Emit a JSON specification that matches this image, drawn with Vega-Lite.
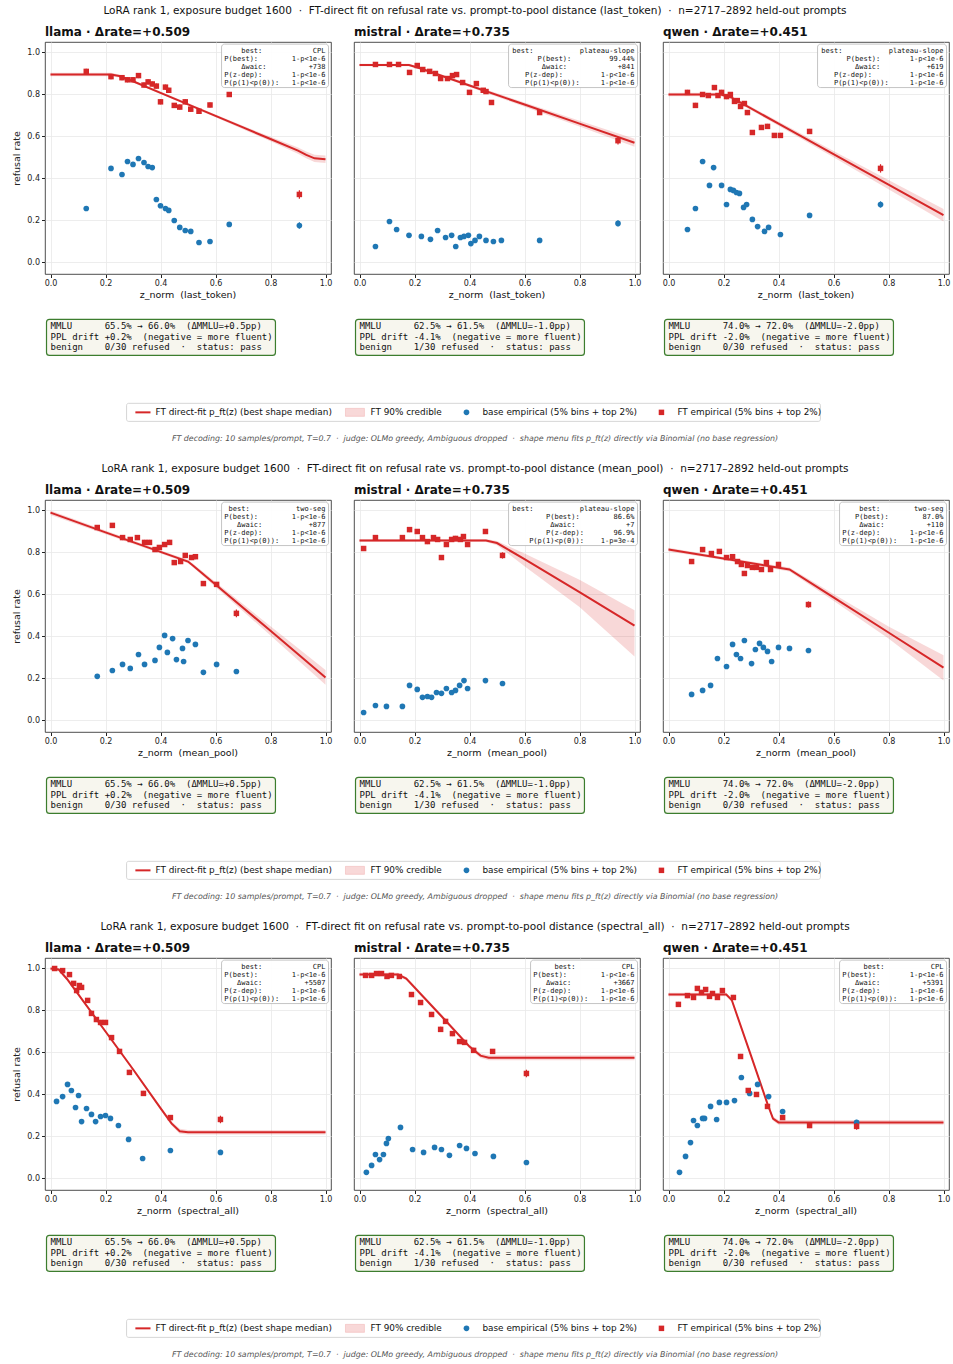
{
"$schema": "https://vega.github.io/schema/vega-lite/v6.json",
"padding": {"left": 11, "top": 5, "right": 2, "bottom": 2},
"background": "white",
"data": {"values": [
{"t":"info","dist":"last_token","model":"llama","title":"llama · Δrate=+0.509","best":"CPL","stats":"\u00a0\u00a0\u00a0\u00a0best:\u00a0\u00a0\u00a0\u00a0\u00a0\u00a0\u00a0\u00a0\u00a0\u00a0\u00a0\u00a0CPL\nP(best):\u00a0\u00a0\u00a0\u00a0\u00a0\u00a0\u00a0\u00a01-p<1e-6\n\u00a0\u00a0\u00a0\u00a0Δwaic:\u00a0\u00a0\u00a0\u00a0\u00a0\u00a0\u00a0\u00a0\u00a0\u00a0+738\nP(z-dep):\u00a0\u00a0\u00a0\u00a0\u00a0\u00a0\u00a01-p<1e-6\nP(p(1)<p(0)):\u00a0\u00a0\u00a01-p<1e-6","mmlu":"MMLU\u00a0\u00a0\u00a0\u00a0\u00a0\u00a065.5% → 66.0%\u00a0\u00a0(ΔMMLU=+0.5pp)\nPPL drift +0.2%\u00a0\u00a0(negative = more fluent)\nbenign\u00a0\u00a0\u00a0\u00a00/30 refused\u00a0\u00a0·\u00a0\u00a0status: pass","xt":"z_norm\u00a0\u00a0(last_token)"},
{"t":"info","dist":"last_token","model":"mistral","title":"mistral · Δrate=+0.735","best":"plateau-slope","stats":"best:\u00a0\u00a0\u00a0\u00a0\u00a0\u00a0\u00a0\u00a0\u00a0\u00a0\u00a0plateau-slope\n\u00a0\u00a0\u00a0\u00a0\u00a0\u00a0P(best):\u00a0\u00a0\u00a0\u00a0\u00a0\u00a0\u00a0\u00a0\u00a099.44%\n\u00a0\u00a0\u00a0\u00a0\u00a0\u00a0\u00a0Δwaic:\u00a0\u00a0\u00a0\u00a0\u00a0\u00a0\u00a0\u00a0\u00a0\u00a0\u00a0\u00a0+841\n\u00a0\u00a0\u00a0P(z-dep):\u00a0\u00a0\u00a0\u00a0\u00a0\u00a0\u00a0\u00a0\u00a01-p<1e-6\n\u00a0\u00a0\u00a0P(p(1)<p(0)):\u00a0\u00a0\u00a0\u00a0\u00a01-p<1e-6","mmlu":"MMLU\u00a0\u00a0\u00a0\u00a0\u00a0\u00a062.5% → 61.5%\u00a0\u00a0(ΔMMLU=-1.0pp)\nPPL drift -4.1%\u00a0\u00a0(negative = more fluent)\nbenign\u00a0\u00a0\u00a0\u00a01/30 refused\u00a0\u00a0·\u00a0\u00a0status: pass","xt":"z_norm\u00a0\u00a0(last_token)","sup":"LoRA rank 1, exposure budget 1600\u00a0\u00a0·\u00a0\u00a0FT-direct fit on refusal rate vs. prompt-to-pool distance (last_token)\u00a0\u00a0·\u00a0\u00a0n=2717–2892 held-out prompts","foot":"FT decoding: 10 samples/prompt, T=0.7\u00a0\u00a0·\u00a0\u00a0judge: OLMo greedy, Ambiguous dropped\u00a0\u00a0·\u00a0\u00a0shape menu fits p_ft(z) directly via Binomial (no base regression)"},
{"t":"info","dist":"last_token","model":"qwen","title":"qwen · Δrate=+0.451","best":"plateau-slope","stats":"best:\u00a0\u00a0\u00a0\u00a0\u00a0\u00a0\u00a0\u00a0\u00a0\u00a0\u00a0plateau-slope\n\u00a0\u00a0\u00a0\u00a0\u00a0\u00a0P(best):\u00a0\u00a0\u00a0\u00a0\u00a0\u00a0\u00a01-p<1e-6\n\u00a0\u00a0\u00a0\u00a0\u00a0\u00a0\u00a0\u00a0Δwaic:\u00a0\u00a0\u00a0\u00a0\u00a0\u00a0\u00a0\u00a0\u00a0\u00a0\u00a0+619\n\u00a0\u00a0\u00a0P(z-dep):\u00a0\u00a0\u00a0\u00a0\u00a0\u00a0\u00a0\u00a0\u00a01-p<1e-6\n\u00a0\u00a0\u00a0P(p(1)<p(0)):\u00a0\u00a0\u00a0\u00a0\u00a01-p<1e-6","mmlu":"MMLU\u00a0\u00a0\u00a0\u00a0\u00a0\u00a074.0% → 72.0%\u00a0\u00a0(ΔMMLU=-2.0pp)\nPPL drift -2.0%\u00a0\u00a0(negative = more fluent)\nbenign\u00a0\u00a0\u00a0\u00a00/30 refused\u00a0\u00a0·\u00a0\u00a0status: pass","xt":"z_norm\u00a0\u00a0(last_token)"},
{"t":"info","dist":"mean_pool","model":"llama","title":"llama · Δrate=+0.509","best":"two-seg","stats":"\u00a0best:\u00a0\u00a0\u00a0\u00a0\u00a0\u00a0\u00a0\u00a0\u00a0\u00a0\u00a0two-seg\nP(best):\u00a0\u00a0\u00a0\u00a0\u00a0\u00a0\u00a0\u00a01-p<1e-6\n\u00a0\u00a0\u00a0Δwaic:\u00a0\u00a0\u00a0\u00a0\u00a0\u00a0\u00a0\u00a0\u00a0\u00a0\u00a0+877\nP(z-dep):\u00a0\u00a0\u00a0\u00a0\u00a0\u00a0\u00a01-p<1e-6\nP(p(1)<p(0)):\u00a0\u00a0\u00a01-p<1e-6","mmlu":"MMLU\u00a0\u00a0\u00a0\u00a0\u00a0\u00a065.5% → 66.0%\u00a0\u00a0(ΔMMLU=+0.5pp)\nPPL drift +0.2%\u00a0\u00a0(negative = more fluent)\nbenign\u00a0\u00a0\u00a0\u00a00/30 refused\u00a0\u00a0·\u00a0\u00a0status: pass","xt":"z_norm\u00a0\u00a0(mean_pool)"},
{"t":"info","dist":"mean_pool","model":"mistral","title":"mistral · Δrate=+0.735","best":"plateau-slope","stats":"best:\u00a0\u00a0\u00a0\u00a0\u00a0\u00a0\u00a0\u00a0\u00a0\u00a0\u00a0plateau-slope\n\u00a0\u00a0\u00a0\u00a0\u00a0\u00a0\u00a0\u00a0P(best):\u00a0\u00a0\u00a0\u00a0\u00a0\u00a0\u00a0\u00a086.6%\n\u00a0\u00a0\u00a0\u00a0\u00a0\u00a0\u00a0\u00a0\u00a0Δwaic:\u00a0\u00a0\u00a0\u00a0\u00a0\u00a0\u00a0\u00a0\u00a0\u00a0\u00a0\u00a0+7\n\u00a0\u00a0\u00a0\u00a0\u00a0\u00a0\u00a0\u00a0P(z-dep):\u00a0\u00a0\u00a0\u00a0\u00a0\u00a0\u00a096.9%\n\u00a0\u00a0\u00a0\u00a0P(p(1)<p(0)):\u00a0\u00a0\u00a0\u00a01-p=3e-4","mmlu":"MMLU\u00a0\u00a0\u00a0\u00a0\u00a0\u00a062.5% → 61.5%\u00a0\u00a0(ΔMMLU=-1.0pp)\nPPL drift -4.1%\u00a0\u00a0(negative = more fluent)\nbenign\u00a0\u00a0\u00a0\u00a01/30 refused\u00a0\u00a0·\u00a0\u00a0status: pass","xt":"z_norm\u00a0\u00a0(mean_pool)","sup":"LoRA rank 1, exposure budget 1600\u00a0\u00a0·\u00a0\u00a0FT-direct fit on refusal rate vs. prompt-to-pool distance (mean_pool)\u00a0\u00a0·\u00a0\u00a0n=2717–2892 held-out prompts","foot":"FT decoding: 10 samples/prompt, T=0.7\u00a0\u00a0·\u00a0\u00a0judge: OLMo greedy, Ambiguous dropped\u00a0\u00a0·\u00a0\u00a0shape menu fits p_ft(z) directly via Binomial (no base regression)"},
{"t":"info","dist":"mean_pool","model":"qwen","title":"qwen · Δrate=+0.451","best":"two-seg","stats":"\u00a0\u00a0\u00a0\u00a0best:\u00a0\u00a0\u00a0\u00a0\u00a0\u00a0\u00a0\u00a0two-seg\n\u00a0\u00a0\u00a0P(best):\u00a0\u00a0\u00a0\u00a0\u00a0\u00a0\u00a0\u00a087.0%\n\u00a0\u00a0\u00a0\u00a0Δwaic:\u00a0\u00a0\u00a0\u00a0\u00a0\u00a0\u00a0\u00a0\u00a0\u00a0+110\nP(z-dep):\u00a0\u00a0\u00a0\u00a0\u00a0\u00a0\u00a01-p<1e-6\nP(p(1)<p(0)):\u00a0\u00a0\u00a01-p<1e-6","mmlu":"MMLU\u00a0\u00a0\u00a0\u00a0\u00a0\u00a074.0% → 72.0%\u00a0\u00a0(ΔMMLU=-2.0pp)\nPPL drift -2.0%\u00a0\u00a0(negative = more fluent)\nbenign\u00a0\u00a0\u00a0\u00a00/30 refused\u00a0\u00a0·\u00a0\u00a0status: pass","xt":"z_norm\u00a0\u00a0(mean_pool)"},
{"t":"info","dist":"spectral_all","model":"llama","title":"llama · Δrate=+0.509","best":"CPL","stats":"\u00a0\u00a0\u00a0\u00a0best:\u00a0\u00a0\u00a0\u00a0\u00a0\u00a0\u00a0\u00a0\u00a0\u00a0\u00a0\u00a0CPL\nP(best):\u00a0\u00a0\u00a0\u00a0\u00a0\u00a0\u00a0\u00a01-p<1e-6\n\u00a0\u00a0\u00a0Δwaic:\u00a0\u00a0\u00a0\u00a0\u00a0\u00a0\u00a0\u00a0\u00a0\u00a0+5507\nP(z-dep):\u00a0\u00a0\u00a0\u00a0\u00a0\u00a0\u00a01-p<1e-6\nP(p(1)<p(0)):\u00a0\u00a0\u00a01-p<1e-6","mmlu":"MMLU\u00a0\u00a0\u00a0\u00a0\u00a0\u00a065.5% → 66.0%\u00a0\u00a0(ΔMMLU=+0.5pp)\nPPL drift +0.2%\u00a0\u00a0(negative = more fluent)\nbenign\u00a0\u00a0\u00a0\u00a00/30 refused\u00a0\u00a0·\u00a0\u00a0status: pass","xt":"z_norm\u00a0\u00a0(spectral_all)"},
{"t":"info","dist":"spectral_all","model":"mistral","title":"mistral · Δrate=+0.735","best":"CPL","stats":"\u00a0\u00a0\u00a0\u00a0\u00a0best:\u00a0\u00a0\u00a0\u00a0\u00a0\u00a0\u00a0\u00a0\u00a0\u00a0\u00a0CPL\nP(best):\u00a0\u00a0\u00a0\u00a0\u00a0\u00a0\u00a0\u00a01-p<1e-6\n\u00a0\u00a0\u00a0Δwaic:\u00a0\u00a0\u00a0\u00a0\u00a0\u00a0\u00a0\u00a0\u00a0\u00a0+3667\nP(z-dep):\u00a0\u00a0\u00a0\u00a0\u00a0\u00a0\u00a01-p<1e-6\nP(p(1)<p(0)):\u00a0\u00a0\u00a01-p<1e-6","mmlu":"MMLU\u00a0\u00a0\u00a0\u00a0\u00a0\u00a062.5% → 61.5%\u00a0\u00a0(ΔMMLU=-1.0pp)\nPPL drift -4.1%\u00a0\u00a0(negative = more fluent)\nbenign\u00a0\u00a0\u00a0\u00a01/30 refused\u00a0\u00a0·\u00a0\u00a0status: pass","xt":"z_norm\u00a0\u00a0(spectral_all)","sup":"LoRA rank 1, exposure budget 1600\u00a0\u00a0·\u00a0\u00a0FT-direct fit on refusal rate vs. prompt-to-pool distance (spectral_all)\u00a0\u00a0·\u00a0\u00a0n=2717–2892 held-out prompts","foot":"FT decoding: 10 samples/prompt, T=0.7\u00a0\u00a0·\u00a0\u00a0judge: OLMo greedy, Ambiguous dropped\u00a0\u00a0·\u00a0\u00a0shape menu fits p_ft(z) directly via Binomial (no base regression)"},
{"t":"info","dist":"spectral_all","model":"qwen","title":"qwen · Δrate=+0.451","best":"CPL","stats":"\u00a0\u00a0\u00a0\u00a0\u00a0best:\u00a0\u00a0\u00a0\u00a0\u00a0\u00a0\u00a0\u00a0\u00a0\u00a0\u00a0CPL\nP(best):\u00a0\u00a0\u00a0\u00a0\u00a0\u00a0\u00a0\u00a01-p<1e-6\n\u00a0\u00a0\u00a0Δwaic:\u00a0\u00a0\u00a0\u00a0\u00a0\u00a0\u00a0\u00a0\u00a0\u00a0+5391\nP(z-dep):\u00a0\u00a0\u00a0\u00a0\u00a0\u00a0\u00a01-p<1e-6\nP(p(1)<p(0)):\u00a0\u00a0\u00a01-p<1e-6","mmlu":"MMLU\u00a0\u00a0\u00a0\u00a0\u00a0\u00a074.0% → 72.0%\u00a0\u00a0(ΔMMLU=-2.0pp)\nPPL drift -2.0%\u00a0\u00a0(negative = more fluent)\nbenign\u00a0\u00a0\u00a0\u00a00/30 refused\u00a0\u00a0·\u00a0\u00a0status: pass","xt":"z_norm\u00a0\u00a0(spectral_all)"},

{"t":"fit","dist":"last_token","model":"llama","z":0,"med":0.895,"lo":0.887,"hi":0.903},
{"t":"fit","dist":"last_token","model":"llama","z":0.22,"med":0.895,"lo":0.887,"hi":0.903},
{"t":"fit","dist":"last_token","model":"llama","z":0.25,"med":0.888,"lo":0.881,"hi":0.895},
{"t":"fit","dist":"last_token","model":"llama","z":0.3,"med":0.863,"lo":0.857,"hi":0.869},
{"t":"fit","dist":"last_token","model":"llama","z":0.4,"med":0.808,"lo":0.802,"hi":0.814},
{"t":"fit","dist":"last_token","model":"llama","z":0.5,"med":0.753,"lo":0.747,"hi":0.759},
{"t":"fit","dist":"last_token","model":"llama","z":0.6,"med":0.698,"lo":0.691,"hi":0.705},
{"t":"fit","dist":"last_token","model":"llama","z":0.7,"med":0.643,"lo":0.635,"hi":0.651},
{"t":"fit","dist":"last_token","model":"llama","z":0.8,"med":0.588,"lo":0.577,"hi":0.599},
{"t":"fit","dist":"last_token","model":"llama","z":0.9,"med":0.533,"lo":0.518,"hi":0.548},
{"t":"fit","dist":"last_token","model":"llama","z":0.93,"med":0.512,"lo":0.496,"hi":0.528},
{"t":"fit","dist":"last_token","model":"llama","z":0.96,"med":0.496,"lo":0.479,"hi":0.513},
{"t":"fit","dist":"last_token","model":"llama","z":1.0,"med":0.492,"lo":0.474,"hi":0.51},
{"t":"fit","dist":"last_token","model":"mistral","z":0,"med":0.94,"lo":0.934,"hi":0.946},
{"t":"fit","dist":"last_token","model":"mistral","z":0.18,"med":0.94,"lo":0.934,"hi":0.946},
{"t":"fit","dist":"last_token","model":"mistral","z":0.22,"med":0.925,"lo":0.919,"hi":0.931},
{"t":"fit","dist":"last_token","model":"mistral","z":0.4,"med":0.843,"lo":0.836,"hi":0.85},
{"t":"fit","dist":"last_token","model":"mistral","z":0.6,"med":0.752,"lo":0.742,"hi":0.762},
{"t":"fit","dist":"last_token","model":"mistral","z":0.8,"med":0.661,"lo":0.647,"hi":0.675},
{"t":"fit","dist":"last_token","model":"mistral","z":1.0,"med":0.57,"lo":0.551,"hi":0.589},
{"t":"fit","dist":"last_token","model":"qwen","z":0,"med":0.8,"lo":0.792,"hi":0.808},
{"t":"fit","dist":"last_token","model":"qwen","z":0.19,"med":0.8,"lo":0.792,"hi":0.808},
{"t":"fit","dist":"last_token","model":"qwen","z":0.23,"med":0.785,"lo":0.777,"hi":0.793},
{"t":"fit","dist":"last_token","model":"qwen","z":0.4,"med":0.661,"lo":0.651,"hi":0.671},
{"t":"fit","dist":"last_token","model":"qwen","z":0.6,"med":0.516,"lo":0.501,"hi":0.531},
{"t":"fit","dist":"last_token","model":"qwen","z":0.8,"med":0.371,"lo":0.349,"hi":0.393},
{"t":"fit","dist":"last_token","model":"qwen","z":1.0,"med":0.225,"lo":0.195,"hi":0.255},
{"t":"fit","dist":"mean_pool","model":"llama","z":0,"med":0.99,"lo":0.978,"hi":1.0},
{"t":"fit","dist":"mean_pool","model":"llama","z":0.2,"med":0.896,"lo":0.887,"hi":0.905},
{"t":"fit","dist":"mean_pool","model":"llama","z":0.4,"med":0.803,"lo":0.795,"hi":0.811},
{"t":"fit","dist":"mean_pool","model":"llama","z":0.5,"med":0.757,"lo":0.749,"hi":0.765},
{"t":"fit","dist":"mean_pool","model":"llama","z":0.52,"med":0.736,"lo":0.727,"hi":0.745},
{"t":"fit","dist":"mean_pool","model":"llama","z":0.6,"med":0.648,"lo":0.636,"hi":0.66},
{"t":"fit","dist":"mean_pool","model":"llama","z":0.8,"med":0.427,"lo":0.405,"hi":0.449},
{"t":"fit","dist":"mean_pool","model":"llama","z":1.0,"med":0.205,"lo":0.17,"hi":0.24},
{"t":"fit","dist":"mean_pool","model":"mistral","z":0,"med":0.857,"lo":0.85,"hi":0.864},
{"t":"fit","dist":"mean_pool","model":"mistral","z":0.46,"med":0.857,"lo":0.85,"hi":0.864},
{"t":"fit","dist":"mean_pool","model":"mistral","z":0.5,"med":0.845,"lo":0.835,"hi":0.855},
{"t":"fit","dist":"mean_pool","model":"mistral","z":0.6,"med":0.768,"lo":0.735,"hi":0.795},
{"t":"fit","dist":"mean_pool","model":"mistral","z":0.8,"med":0.611,"lo":0.54,"hi":0.67},
{"t":"fit","dist":"mean_pool","model":"mistral","z":1.0,"med":0.452,"lo":0.305,"hi":0.525},
{"t":"fit","dist":"mean_pool","model":"qwen","z":0,"med":0.814,"lo":0.805,"hi":0.823},
{"t":"fit","dist":"mean_pool","model":"qwen","z":0.2,"med":0.771,"lo":0.764,"hi":0.778},
{"t":"fit","dist":"mean_pool","model":"qwen","z":0.44,"med":0.719,"lo":0.71,"hi":0.728},
{"t":"fit","dist":"mean_pool","model":"qwen","z":0.6,"med":0.586,"lo":0.57,"hi":0.602},
{"t":"fit","dist":"mean_pool","model":"qwen","z":0.8,"med":0.419,"lo":0.39,"hi":0.448},
{"t":"fit","dist":"mean_pool","model":"qwen","z":1.0,"med":0.252,"lo":0.19,"hi":0.31},
{"t":"fit","dist":"spectral_all","model":"llama","z":0,"med":1.0,"lo":0.992,"hi":1.005},
{"t":"fit","dist":"spectral_all","model":"llama","z":0.03,"med":0.995,"lo":0.988,"hi":1.0},
{"t":"fit","dist":"spectral_all","model":"llama","z":0.06,"med":0.95,"lo":0.943,"hi":0.957},
{"t":"fit","dist":"spectral_all","model":"llama","z":0.2,"med":0.7,"lo":0.693,"hi":0.707},
{"t":"fit","dist":"spectral_all","model":"llama","z":0.3,"med":0.52,"lo":0.513,"hi":0.527},
{"t":"fit","dist":"spectral_all","model":"llama","z":0.4,"med":0.335,"lo":0.327,"hi":0.343},
{"t":"fit","dist":"spectral_all","model":"llama","z":0.44,"med":0.262,"lo":0.252,"hi":0.272},
{"t":"fit","dist":"spectral_all","model":"llama","z":0.47,"med":0.225,"lo":0.213,"hi":0.237},
{"t":"fit","dist":"spectral_all","model":"llama","z":0.5,"med":0.22,"lo":0.209,"hi":0.231},
{"t":"fit","dist":"spectral_all","model":"llama","z":1.0,"med":0.22,"lo":0.209,"hi":0.231},
{"t":"fit","dist":"spectral_all","model":"mistral","z":0,"med":0.972,"lo":0.963,"hi":0.98},
{"t":"fit","dist":"spectral_all","model":"mistral","z":0.14,"med":0.972,"lo":0.963,"hi":0.98},
{"t":"fit","dist":"spectral_all","model":"mistral","z":0.17,"med":0.952,"lo":0.944,"hi":0.96},
{"t":"fit","dist":"spectral_all","model":"mistral","z":0.3,"med":0.77,"lo":0.762,"hi":0.778},
{"t":"fit","dist":"spectral_all","model":"mistral","z":0.4,"med":0.628,"lo":0.619,"hi":0.637},
{"t":"fit","dist":"spectral_all","model":"mistral","z":0.44,"med":0.585,"lo":0.574,"hi":0.596},
{"t":"fit","dist":"spectral_all","model":"mistral","z":0.47,"med":0.575,"lo":0.563,"hi":0.587},
{"t":"fit","dist":"spectral_all","model":"mistral","z":1.0,"med":0.575,"lo":0.563,"hi":0.587},
{"t":"fit","dist":"spectral_all","model":"qwen","z":0,"med":0.876,"lo":0.868,"hi":0.884},
{"t":"fit","dist":"spectral_all","model":"qwen","z":0.21,"med":0.876,"lo":0.868,"hi":0.884},
{"t":"fit","dist":"spectral_all","model":"qwen","z":0.23,"med":0.85,"lo":0.842,"hi":0.858},
{"t":"fit","dist":"spectral_all","model":"qwen","z":0.3,"med":0.585,"lo":0.577,"hi":0.593},
{"t":"fit","dist":"spectral_all","model":"qwen","z":0.36,"med":0.355,"lo":0.346,"hi":0.364},
{"t":"fit","dist":"spectral_all","model":"qwen","z":0.38,"med":0.285,"lo":0.275,"hi":0.295},
{"t":"fit","dist":"spectral_all","model":"qwen","z":0.4,"med":0.267,"lo":0.256,"hi":0.278},
{"t":"fit","dist":"spectral_all","model":"qwen","z":1.0,"med":0.267,"lo":0.256,"hi":0.278},

{"t":"base","dist":"last_token","model":"llama","z":0.13,"rate":0.257,"err":0.01},
{"t":"base","dist":"last_token","model":"llama","z":0.22,"rate":0.448,"err":0.01},
{"t":"base","dist":"last_token","model":"llama","z":0.26,"rate":0.419,"err":0.01},
{"t":"base","dist":"last_token","model":"llama","z":0.28,"rate":0.481,"err":0.01},
{"t":"base","dist":"last_token","model":"llama","z":0.3,"rate":0.467,"err":0.01},
{"t":"base","dist":"last_token","model":"llama","z":0.32,"rate":0.495,"err":0.01},
{"t":"base","dist":"last_token","model":"llama","z":0.34,"rate":0.476,"err":0.01},
{"t":"base","dist":"last_token","model":"llama","z":0.355,"rate":0.457,"err":0.01},
{"t":"base","dist":"last_token","model":"llama","z":0.37,"rate":0.452,"err":0.01},
{"t":"base","dist":"last_token","model":"llama","z":0.385,"rate":0.3,"err":0.01},
{"t":"base","dist":"last_token","model":"llama","z":0.4,"rate":0.27,"err":0.01},
{"t":"base","dist":"last_token","model":"llama","z":0.418,"rate":0.257,"err":0.01},
{"t":"base","dist":"last_token","model":"llama","z":0.43,"rate":0.248,"err":0.01},
{"t":"base","dist":"last_token","model":"llama","z":0.45,"rate":0.2,"err":0.01},
{"t":"base","dist":"last_token","model":"llama","z":0.47,"rate":0.167,"err":0.01},
{"t":"base","dist":"last_token","model":"llama","z":0.49,"rate":0.152,"err":0.01},
{"t":"base","dist":"last_token","model":"llama","z":0.51,"rate":0.148,"err":0.01},
{"t":"base","dist":"last_token","model":"llama","z":0.54,"rate":0.095,"err":0.01},
{"t":"base","dist":"last_token","model":"llama","z":0.58,"rate":0.1,"err":0.01},
{"t":"base","dist":"last_token","model":"llama","z":0.65,"rate":0.181,"err":0.01},
{"t":"base","dist":"last_token","model":"llama","z":0.905,"rate":0.176,"err":0.015},
{"t":"ft","dist":"last_token","model":"llama","z":0.13,"rate":0.91,"err":0.012},
{"t":"ft","dist":"last_token","model":"llama","z":0.22,"rate":0.885,"err":0.012},
{"t":"ft","dist":"last_token","model":"llama","z":0.26,"rate":0.88,"err":0.012},
{"t":"ft","dist":"last_token","model":"llama","z":0.28,"rate":0.87,"err":0.012},
{"t":"ft","dist":"last_token","model":"llama","z":0.3,"rate":0.87,"err":0.012},
{"t":"ft","dist":"last_token","model":"llama","z":0.32,"rate":0.89,"err":0.012},
{"t":"ft","dist":"last_token","model":"llama","z":0.34,"rate":0.845,"err":0.012},
{"t":"ft","dist":"last_token","model":"llama","z":0.355,"rate":0.86,"err":0.012},
{"t":"ft","dist":"last_token","model":"llama","z":0.37,"rate":0.85,"err":0.012},
{"t":"ft","dist":"last_token","model":"llama","z":0.385,"rate":0.84,"err":0.012},
{"t":"ft","dist":"last_token","model":"llama","z":0.4,"rate":0.765,"err":0.012},
{"t":"ft","dist":"last_token","model":"llama","z":0.418,"rate":0.835,"err":0.012},
{"t":"ft","dist":"last_token","model":"llama","z":0.43,"rate":0.82,"err":0.012},
{"t":"ft","dist":"last_token","model":"llama","z":0.45,"rate":0.748,"err":0.012},
{"t":"ft","dist":"last_token","model":"llama","z":0.47,"rate":0.74,"err":0.012},
{"t":"ft","dist":"last_token","model":"llama","z":0.49,"rate":0.765,"err":0.012},
{"t":"ft","dist":"last_token","model":"llama","z":0.51,"rate":0.73,"err":0.012},
{"t":"ft","dist":"last_token","model":"llama","z":0.54,"rate":0.72,"err":0.012},
{"t":"ft","dist":"last_token","model":"llama","z":0.58,"rate":0.75,"err":0.012},
{"t":"ft","dist":"last_token","model":"llama","z":0.65,"rate":0.8,"err":0.012},
{"t":"ft","dist":"last_token","model":"llama","z":0.905,"rate":0.324,"err":0.02},

{"t":"base","dist":"last_token","model":"mistral","z":0.058,"rate":0.076,"err":0.01},
{"t":"base","dist":"last_token","model":"mistral","z":0.109,"rate":0.195,"err":0.01},
{"t":"base","dist":"last_token","model":"mistral","z":0.135,"rate":0.157,"err":0.01},
{"t":"base","dist":"last_token","model":"mistral","z":0.18,"rate":0.129,"err":0.01},
{"t":"base","dist":"last_token","model":"mistral","z":0.225,"rate":0.124,"err":0.01},
{"t":"base","dist":"last_token","model":"mistral","z":0.258,"rate":0.11,"err":0.01},
{"t":"base","dist":"last_token","model":"mistral","z":0.284,"rate":0.152,"err":0.01},
{"t":"base","dist":"last_token","model":"mistral","z":0.313,"rate":0.119,"err":0.01},
{"t":"base","dist":"last_token","model":"mistral","z":0.335,"rate":0.129,"err":0.01},
{"t":"base","dist":"last_token","model":"mistral","z":0.35,"rate":0.076,"err":0.01},
{"t":"base","dist":"last_token","model":"mistral","z":0.367,"rate":0.119,"err":0.01},
{"t":"base","dist":"last_token","model":"mistral","z":0.38,"rate":0.124,"err":0.01},
{"t":"base","dist":"last_token","model":"mistral","z":0.396,"rate":0.129,"err":0.01},
{"t":"base","dist":"last_token","model":"mistral","z":0.405,"rate":0.09,"err":0.01},
{"t":"base","dist":"last_token","model":"mistral","z":0.42,"rate":0.105,"err":0.01},
{"t":"base","dist":"last_token","model":"mistral","z":0.436,"rate":0.124,"err":0.01},
{"t":"base","dist":"last_token","model":"mistral","z":0.46,"rate":0.105,"err":0.01},
{"t":"base","dist":"last_token","model":"mistral","z":0.487,"rate":0.1,"err":0.01},
{"t":"base","dist":"last_token","model":"mistral","z":0.516,"rate":0.105,"err":0.01},
{"t":"base","dist":"last_token","model":"mistral","z":0.655,"rate":0.105,"err":0.01},
{"t":"base","dist":"last_token","model":"mistral","z":0.94,"rate":0.186,"err":0.015},
{"t":"ft","dist":"last_token","model":"mistral","z":0.058,"rate":0.943,"err":0.01},
{"t":"ft","dist":"last_token","model":"mistral","z":0.109,"rate":0.943,"err":0.01},
{"t":"ft","dist":"last_token","model":"mistral","z":0.142,"rate":0.943,"err":0.01},
{"t":"ft","dist":"last_token","model":"mistral","z":0.182,"rate":0.905,"err":0.01},
{"t":"ft","dist":"last_token","model":"mistral","z":0.21,"rate":0.938,"err":0.01},
{"t":"ft","dist":"last_token","model":"mistral","z":0.23,"rate":0.919,"err":0.01},
{"t":"ft","dist":"last_token","model":"mistral","z":0.255,"rate":0.91,"err":0.01},
{"t":"ft","dist":"last_token","model":"mistral","z":0.276,"rate":0.9,"err":0.01},
{"t":"ft","dist":"last_token","model":"mistral","z":0.295,"rate":0.876,"err":0.01},
{"t":"ft","dist":"last_token","model":"mistral","z":0.32,"rate":0.876,"err":0.01},
{"t":"ft","dist":"last_token","model":"mistral","z":0.338,"rate":0.89,"err":0.01},
{"t":"ft","dist":"last_token","model":"mistral","z":0.353,"rate":0.895,"err":0.01},
{"t":"ft","dist":"last_token","model":"mistral","z":0.375,"rate":0.857,"err":0.01},
{"t":"ft","dist":"last_token","model":"mistral","z":0.4,"rate":0.81,"err":0.01},
{"t":"ft","dist":"last_token","model":"mistral","z":0.425,"rate":0.852,"err":0.01},
{"t":"ft","dist":"last_token","model":"mistral","z":0.45,"rate":0.82,"err":0.01},
{"t":"ft","dist":"last_token","model":"mistral","z":0.46,"rate":0.814,"err":0.01},
{"t":"ft","dist":"last_token","model":"mistral","z":0.48,"rate":0.762,"err":0.01},
{"t":"ft","dist":"last_token","model":"mistral","z":0.655,"rate":0.714,"err":0.012},
{"t":"ft","dist":"last_token","model":"mistral","z":0.94,"rate":0.58,"err":0.018},

{"t":"base","dist":"last_token","model":"qwen","z":0.069,"rate":0.157,"err":0.01},
{"t":"base","dist":"last_token","model":"qwen","z":0.098,"rate":0.257,"err":0.01},
{"t":"base","dist":"last_token","model":"qwen","z":0.124,"rate":0.481,"err":0.01},
{"t":"base","dist":"last_token","model":"qwen","z":0.149,"rate":0.367,"err":0.01},
{"t":"base","dist":"last_token","model":"qwen","z":0.164,"rate":0.452,"err":0.01},
{"t":"base","dist":"last_token","model":"qwen","z":0.193,"rate":0.367,"err":0.01},
{"t":"base","dist":"last_token","model":"qwen","z":0.211,"rate":0.276,"err":0.01},
{"t":"base","dist":"last_token","model":"qwen","z":0.225,"rate":0.348,"err":0.01},
{"t":"base","dist":"last_token","model":"qwen","z":0.236,"rate":0.343,"err":0.01},
{"t":"base","dist":"last_token","model":"qwen","z":0.247,"rate":0.333,"err":0.01},
{"t":"base","dist":"last_token","model":"qwen","z":0.258,"rate":0.329,"err":0.01},
{"t":"base","dist":"last_token","model":"qwen","z":0.273,"rate":0.262,"err":0.01},
{"t":"base","dist":"last_token","model":"qwen","z":0.284,"rate":0.276,"err":0.01},
{"t":"base","dist":"last_token","model":"qwen","z":0.305,"rate":0.205,"err":0.01},
{"t":"base","dist":"last_token","model":"qwen","z":0.324,"rate":0.171,"err":0.01},
{"t":"base","dist":"last_token","model":"qwen","z":0.349,"rate":0.148,"err":0.01},
{"t":"base","dist":"last_token","model":"qwen","z":0.364,"rate":0.167,"err":0.01},
{"t":"base","dist":"last_token","model":"qwen","z":0.407,"rate":0.133,"err":0.01},
{"t":"base","dist":"last_token","model":"qwen","z":0.513,"rate":0.224,"err":0.01},
{"t":"base","dist":"last_token","model":"qwen","z":0.771,"rate":0.276,"err":0.015},
{"t":"ft","dist":"last_token","model":"qwen","z":0.069,"rate":0.81,"err":0.012},
{"t":"ft","dist":"last_token","model":"qwen","z":0.098,"rate":0.748,"err":0.012},
{"t":"ft","dist":"last_token","model":"qwen","z":0.124,"rate":0.8,"err":0.012},
{"t":"ft","dist":"last_token","model":"qwen","z":0.145,"rate":0.795,"err":0.012},
{"t":"ft","dist":"last_token","model":"qwen","z":0.167,"rate":0.833,"err":0.012},
{"t":"ft","dist":"last_token","model":"qwen","z":0.18,"rate":0.795,"err":0.012},
{"t":"ft","dist":"last_token","model":"qwen","z":0.193,"rate":0.81,"err":0.012},
{"t":"ft","dist":"last_token","model":"qwen","z":0.211,"rate":0.79,"err":0.012},
{"t":"ft","dist":"last_token","model":"qwen","z":0.225,"rate":0.8,"err":0.012},
{"t":"ft","dist":"last_token","model":"qwen","z":0.24,"rate":0.767,"err":0.012},
{"t":"ft","dist":"last_token","model":"qwen","z":0.25,"rate":0.771,"err":0.012},
{"t":"ft","dist":"last_token","model":"qwen","z":0.262,"rate":0.743,"err":0.012},
{"t":"ft","dist":"last_token","model":"qwen","z":0.276,"rate":0.757,"err":0.012},
{"t":"ft","dist":"last_token","model":"qwen","z":0.287,"rate":0.714,"err":0.012},
{"t":"ft","dist":"last_token","model":"qwen","z":0.305,"rate":0.619,"err":0.012},
{"t":"ft","dist":"last_token","model":"qwen","z":0.338,"rate":0.643,"err":0.012},
{"t":"ft","dist":"last_token","model":"qwen","z":0.36,"rate":0.648,"err":0.012},
{"t":"ft","dist":"last_token","model":"qwen","z":0.385,"rate":0.605,"err":0.012},
{"t":"ft","dist":"last_token","model":"qwen","z":0.407,"rate":0.605,"err":0.012},
{"t":"ft","dist":"last_token","model":"qwen","z":0.513,"rate":0.624,"err":0.012},
{"t":"ft","dist":"last_token","model":"qwen","z":0.771,"rate":0.448,"err":0.02},

{"t":"base","dist":"mean_pool","model":"llama","z":0.17,"rate":0.21,"err":0.01},
{"t":"base","dist":"mean_pool","model":"llama","z":0.225,"rate":0.238,"err":0.01},
{"t":"base","dist":"mean_pool","model":"llama","z":0.262,"rate":0.267,"err":0.01},
{"t":"base","dist":"mean_pool","model":"llama","z":0.29,"rate":0.248,"err":0.01},
{"t":"base","dist":"mean_pool","model":"llama","z":0.32,"rate":0.314,"err":0.01},
{"t":"base","dist":"mean_pool","model":"llama","z":0.342,"rate":0.267,"err":0.01},
{"t":"base","dist":"mean_pool","model":"llama","z":0.38,"rate":0.286,"err":0.01},
{"t":"base","dist":"mean_pool","model":"llama","z":0.396,"rate":0.348,"err":0.01},
{"t":"base","dist":"mean_pool","model":"llama","z":0.415,"rate":0.405,"err":0.01},
{"t":"base","dist":"mean_pool","model":"llama","z":0.425,"rate":0.324,"err":0.01},
{"t":"base","dist":"mean_pool","model":"llama","z":0.444,"rate":0.39,"err":0.01},
{"t":"base","dist":"mean_pool","model":"llama","z":0.458,"rate":0.29,"err":0.01},
{"t":"base","dist":"mean_pool","model":"llama","z":0.48,"rate":0.343,"err":0.01},
{"t":"base","dist":"mean_pool","model":"llama","z":0.484,"rate":0.281,"err":0.01},
{"t":"base","dist":"mean_pool","model":"llama","z":0.5,"rate":0.381,"err":0.01},
{"t":"base","dist":"mean_pool","model":"llama","z":0.527,"rate":0.362,"err":0.01},
{"t":"base","dist":"mean_pool","model":"llama","z":0.556,"rate":0.229,"err":0.01},
{"t":"base","dist":"mean_pool","model":"llama","z":0.604,"rate":0.267,"err":0.01},
{"t":"base","dist":"mean_pool","model":"llama","z":0.676,"rate":0.233,"err":0.012},
{"t":"ft","dist":"mean_pool","model":"llama","z":0.17,"rate":0.919,"err":0.012},
{"t":"ft","dist":"mean_pool","model":"llama","z":0.225,"rate":0.929,"err":0.012},
{"t":"ft","dist":"mean_pool","model":"llama","z":0.262,"rate":0.871,"err":0.012},
{"t":"ft","dist":"mean_pool","model":"llama","z":0.29,"rate":0.862,"err":0.012},
{"t":"ft","dist":"mean_pool","model":"llama","z":0.316,"rate":0.871,"err":0.012},
{"t":"ft","dist":"mean_pool","model":"llama","z":0.342,"rate":0.848,"err":0.012},
{"t":"ft","dist":"mean_pool","model":"llama","z":0.36,"rate":0.848,"err":0.012},
{"t":"ft","dist":"mean_pool","model":"llama","z":0.38,"rate":0.814,"err":0.012},
{"t":"ft","dist":"mean_pool","model":"llama","z":0.396,"rate":0.824,"err":0.012},
{"t":"ft","dist":"mean_pool","model":"llama","z":0.415,"rate":0.838,"err":0.012},
{"t":"ft","dist":"mean_pool","model":"llama","z":0.433,"rate":0.848,"err":0.012},
{"t":"ft","dist":"mean_pool","model":"llama","z":0.45,"rate":0.752,"err":0.012},
{"t":"ft","dist":"mean_pool","model":"llama","z":0.473,"rate":0.757,"err":0.012},
{"t":"ft","dist":"mean_pool","model":"llama","z":0.49,"rate":0.786,"err":0.012},
{"t":"ft","dist":"mean_pool","model":"llama","z":0.513,"rate":0.776,"err":0.012},
{"t":"ft","dist":"mean_pool","model":"llama","z":0.527,"rate":0.78,"err":0.012},
{"t":"ft","dist":"mean_pool","model":"llama","z":0.556,"rate":0.652,"err":0.012},
{"t":"ft","dist":"mean_pool","model":"llama","z":0.604,"rate":0.648,"err":0.012},
{"t":"ft","dist":"mean_pool","model":"llama","z":0.676,"rate":0.51,"err":0.018},

{"t":"base","dist":"mean_pool","model":"mistral","z":0.015,"rate":0.038,"err":0.008},
{"t":"base","dist":"mean_pool","model":"mistral","z":0.058,"rate":0.071,"err":0.008},
{"t":"base","dist":"mean_pool","model":"mistral","z":0.098,"rate":0.067,"err":0.008},
{"t":"base","dist":"mean_pool","model":"mistral","z":0.156,"rate":0.067,"err":0.008},
{"t":"base","dist":"mean_pool","model":"mistral","z":0.182,"rate":0.167,"err":0.01},
{"t":"base","dist":"mean_pool","model":"mistral","z":0.21,"rate":0.148,"err":0.01},
{"t":"base","dist":"mean_pool","model":"mistral","z":0.229,"rate":0.11,"err":0.01},
{"t":"base","dist":"mean_pool","model":"mistral","z":0.247,"rate":0.114,"err":0.01},
{"t":"base","dist":"mean_pool","model":"mistral","z":0.262,"rate":0.11,"err":0.01},
{"t":"base","dist":"mean_pool","model":"mistral","z":0.28,"rate":0.133,"err":0.01},
{"t":"base","dist":"mean_pool","model":"mistral","z":0.298,"rate":0.129,"err":0.01},
{"t":"base","dist":"mean_pool","model":"mistral","z":0.316,"rate":0.152,"err":0.01},
{"t":"base","dist":"mean_pool","model":"mistral","z":0.335,"rate":0.133,"err":0.01},
{"t":"base","dist":"mean_pool","model":"mistral","z":0.349,"rate":0.143,"err":0.01},
{"t":"base","dist":"mean_pool","model":"mistral","z":0.364,"rate":0.167,"err":0.01},
{"t":"base","dist":"mean_pool","model":"mistral","z":0.38,"rate":0.19,"err":0.01},
{"t":"base","dist":"mean_pool","model":"mistral","z":0.393,"rate":0.152,"err":0.01},
{"t":"base","dist":"mean_pool","model":"mistral","z":0.458,"rate":0.19,"err":0.01},
{"t":"base","dist":"mean_pool","model":"mistral","z":0.52,"rate":0.176,"err":0.012},
{"t":"ft","dist":"mean_pool","model":"mistral","z":0.015,"rate":0.819,"err":0.012},
{"t":"ft","dist":"mean_pool","model":"mistral","z":0.058,"rate":0.871,"err":0.012},
{"t":"ft","dist":"mean_pool","model":"mistral","z":0.156,"rate":0.871,"err":0.012},
{"t":"ft","dist":"mean_pool","model":"mistral","z":0.182,"rate":0.909,"err":0.012},
{"t":"ft","dist":"mean_pool","model":"mistral","z":0.21,"rate":0.9,"err":0.012},
{"t":"ft","dist":"mean_pool","model":"mistral","z":0.229,"rate":0.871,"err":0.012},
{"t":"ft","dist":"mean_pool","model":"mistral","z":0.247,"rate":0.852,"err":0.012},
{"t":"ft","dist":"mean_pool","model":"mistral","z":0.269,"rate":0.871,"err":0.012},
{"t":"ft","dist":"mean_pool","model":"mistral","z":0.284,"rate":0.862,"err":0.012},
{"t":"ft","dist":"mean_pool","model":"mistral","z":0.298,"rate":0.776,"err":0.012},
{"t":"ft","dist":"mean_pool","model":"mistral","z":0.316,"rate":0.838,"err":0.012},
{"t":"ft","dist":"mean_pool","model":"mistral","z":0.335,"rate":0.862,"err":0.012},
{"t":"ft","dist":"mean_pool","model":"mistral","z":0.349,"rate":0.867,"err":0.012},
{"t":"ft","dist":"mean_pool","model":"mistral","z":0.367,"rate":0.862,"err":0.012},
{"t":"ft","dist":"mean_pool","model":"mistral","z":0.378,"rate":0.876,"err":0.012},
{"t":"ft","dist":"mean_pool","model":"mistral","z":0.393,"rate":0.838,"err":0.012},
{"t":"ft","dist":"mean_pool","model":"mistral","z":0.458,"rate":0.9,"err":0.012},
{"t":"ft","dist":"mean_pool","model":"mistral","z":0.52,"rate":0.786,"err":0.015},

{"t":"base","dist":"mean_pool","model":"qwen","z":0.084,"rate":0.124,"err":0.01},
{"t":"base","dist":"mean_pool","model":"qwen","z":0.124,"rate":0.143,"err":0.01},
{"t":"base","dist":"mean_pool","model":"qwen","z":0.153,"rate":0.167,"err":0.01},
{"t":"base","dist":"mean_pool","model":"qwen","z":0.178,"rate":0.295,"err":0.01},
{"t":"base","dist":"mean_pool","model":"qwen","z":0.211,"rate":0.257,"err":0.01},
{"t":"base","dist":"mean_pool","model":"qwen","z":0.233,"rate":0.362,"err":0.01},
{"t":"base","dist":"mean_pool","model":"qwen","z":0.247,"rate":0.314,"err":0.01},
{"t":"base","dist":"mean_pool","model":"qwen","z":0.262,"rate":0.295,"err":0.01},
{"t":"base","dist":"mean_pool","model":"qwen","z":0.276,"rate":0.381,"err":0.01},
{"t":"base","dist":"mean_pool","model":"qwen","z":0.302,"rate":0.271,"err":0.01},
{"t":"base","dist":"mean_pool","model":"qwen","z":0.316,"rate":0.338,"err":0.01},
{"t":"base","dist":"mean_pool","model":"qwen","z":0.331,"rate":0.367,"err":0.01},
{"t":"base","dist":"mean_pool","model":"qwen","z":0.345,"rate":0.348,"err":0.01},
{"t":"base","dist":"mean_pool","model":"qwen","z":0.36,"rate":0.329,"err":0.01},
{"t":"base","dist":"mean_pool","model":"qwen","z":0.375,"rate":0.281,"err":0.01},
{"t":"base","dist":"mean_pool","model":"qwen","z":0.4,"rate":0.348,"err":0.01},
{"t":"base","dist":"mean_pool","model":"qwen","z":0.44,"rate":0.343,"err":0.01},
{"t":"base","dist":"mean_pool","model":"qwen","z":0.509,"rate":0.333,"err":0.012},
{"t":"ft","dist":"mean_pool","model":"qwen","z":0.084,"rate":0.757,"err":0.012},
{"t":"ft","dist":"mean_pool","model":"qwen","z":0.124,"rate":0.814,"err":0.012},
{"t":"ft","dist":"mean_pool","model":"qwen","z":0.156,"rate":0.795,"err":0.012},
{"t":"ft","dist":"mean_pool","model":"qwen","z":0.185,"rate":0.805,"err":0.012},
{"t":"ft","dist":"mean_pool","model":"qwen","z":0.211,"rate":0.776,"err":0.012},
{"t":"ft","dist":"mean_pool","model":"qwen","z":0.233,"rate":0.78,"err":0.012},
{"t":"ft","dist":"mean_pool","model":"qwen","z":0.251,"rate":0.757,"err":0.012},
{"t":"ft","dist":"mean_pool","model":"qwen","z":0.265,"rate":0.743,"err":0.012},
{"t":"ft","dist":"mean_pool","model":"qwen","z":0.276,"rate":0.7,"err":0.012},
{"t":"ft","dist":"mean_pool","model":"qwen","z":0.287,"rate":0.738,"err":0.012},
{"t":"ft","dist":"mean_pool","model":"qwen","z":0.305,"rate":0.729,"err":0.012},
{"t":"ft","dist":"mean_pool","model":"qwen","z":0.32,"rate":0.729,"err":0.012},
{"t":"ft","dist":"mean_pool","model":"qwen","z":0.338,"rate":0.719,"err":0.012},
{"t":"ft","dist":"mean_pool","model":"qwen","z":0.356,"rate":0.752,"err":0.012},
{"t":"ft","dist":"mean_pool","model":"qwen","z":0.371,"rate":0.719,"err":0.012},
{"t":"ft","dist":"mean_pool","model":"qwen","z":0.4,"rate":0.743,"err":0.012},
{"t":"ft","dist":"mean_pool","model":"qwen","z":0.509,"rate":0.552,"err":0.015},

{"t":"base","dist":"spectral_all","model":"llama","z":0.022,"rate":0.367,"err":0.01},
{"t":"base","dist":"spectral_all","model":"llama","z":0.044,"rate":0.39,"err":0.01},
{"t":"base","dist":"spectral_all","model":"llama","z":0.062,"rate":0.448,"err":0.01},
{"t":"base","dist":"spectral_all","model":"llama","z":0.076,"rate":0.419,"err":0.01},
{"t":"base","dist":"spectral_all","model":"llama","z":0.091,"rate":0.338,"err":0.01},
{"t":"base","dist":"spectral_all","model":"llama","z":0.102,"rate":0.395,"err":0.01},
{"t":"base","dist":"spectral_all","model":"llama","z":0.113,"rate":0.271,"err":0.01},
{"t":"base","dist":"spectral_all","model":"llama","z":0.131,"rate":0.333,"err":0.01},
{"t":"base","dist":"spectral_all","model":"llama","z":0.149,"rate":0.305,"err":0.01},
{"t":"base","dist":"spectral_all","model":"llama","z":0.164,"rate":0.271,"err":0.01},
{"t":"base","dist":"spectral_all","model":"llama","z":0.182,"rate":0.295,"err":0.01},
{"t":"base","dist":"spectral_all","model":"llama","z":0.2,"rate":0.3,"err":0.01},
{"t":"base","dist":"spectral_all","model":"llama","z":0.218,"rate":0.286,"err":0.01},
{"t":"base","dist":"spectral_all","model":"llama","z":0.247,"rate":0.252,"err":0.01},
{"t":"base","dist":"spectral_all","model":"llama","z":0.284,"rate":0.186,"err":0.01},
{"t":"base","dist":"spectral_all","model":"llama","z":0.335,"rate":0.095,"err":0.01},
{"t":"base","dist":"spectral_all","model":"llama","z":0.436,"rate":0.133,"err":0.01},
{"t":"base","dist":"spectral_all","model":"llama","z":0.618,"rate":0.124,"err":0.012},
{"t":"ft","dist":"spectral_all","model":"llama","z":0.015,"rate":1.0,"err":0.006},
{"t":"ft","dist":"spectral_all","model":"llama","z":0.044,"rate":0.99,"err":0.008},
{"t":"ft","dist":"spectral_all","model":"llama","z":0.069,"rate":0.971,"err":0.01},
{"t":"ft","dist":"spectral_all","model":"llama","z":0.084,"rate":0.929,"err":0.012},
{"t":"ft","dist":"spectral_all","model":"llama","z":0.095,"rate":0.895,"err":0.012},
{"t":"ft","dist":"spectral_all","model":"llama","z":0.105,"rate":0.919,"err":0.012},
{"t":"ft","dist":"spectral_all","model":"llama","z":0.113,"rate":0.91,"err":0.012},
{"t":"ft","dist":"spectral_all","model":"llama","z":0.135,"rate":0.848,"err":0.012},
{"t":"ft","dist":"spectral_all","model":"llama","z":0.149,"rate":0.786,"err":0.012},
{"t":"ft","dist":"spectral_all","model":"llama","z":0.167,"rate":0.757,"err":0.012},
{"t":"ft","dist":"spectral_all","model":"llama","z":0.182,"rate":0.743,"err":0.012},
{"t":"ft","dist":"spectral_all","model":"llama","z":0.2,"rate":0.743,"err":0.012},
{"t":"ft","dist":"spectral_all","model":"llama","z":0.222,"rate":0.671,"err":0.012},
{"t":"ft","dist":"spectral_all","model":"llama","z":0.251,"rate":0.605,"err":0.012},
{"t":"ft","dist":"spectral_all","model":"llama","z":0.287,"rate":0.505,"err":0.012},
{"t":"ft","dist":"spectral_all","model":"llama","z":0.338,"rate":0.405,"err":0.012},
{"t":"ft","dist":"spectral_all","model":"llama","z":0.436,"rate":0.29,"err":0.012},
{"t":"ft","dist":"spectral_all","model":"llama","z":0.618,"rate":0.281,"err":0.018},

{"t":"base","dist":"spectral_all","model":"mistral","z":0.025,"rate":0.029,"err":0.008},
{"t":"base","dist":"spectral_all","model":"mistral","z":0.044,"rate":0.062,"err":0.008},
{"t":"base","dist":"spectral_all","model":"mistral","z":0.058,"rate":0.114,"err":0.01},
{"t":"base","dist":"spectral_all","model":"mistral","z":0.073,"rate":0.09,"err":0.01},
{"t":"base","dist":"spectral_all","model":"mistral","z":0.087,"rate":0.114,"err":0.01},
{"t":"base","dist":"spectral_all","model":"mistral","z":0.098,"rate":0.167,"err":0.01},
{"t":"base","dist":"spectral_all","model":"mistral","z":0.105,"rate":0.19,"err":0.01},
{"t":"base","dist":"spectral_all","model":"mistral","z":0.149,"rate":0.243,"err":0.01},
{"t":"base","dist":"spectral_all","model":"mistral","z":0.193,"rate":0.138,"err":0.01},
{"t":"base","dist":"spectral_all","model":"mistral","z":0.233,"rate":0.124,"err":0.01},
{"t":"base","dist":"spectral_all","model":"mistral","z":0.273,"rate":0.148,"err":0.01},
{"t":"base","dist":"spectral_all","model":"mistral","z":0.298,"rate":0.138,"err":0.01},
{"t":"base","dist":"spectral_all","model":"mistral","z":0.327,"rate":0.11,"err":0.01},
{"t":"base","dist":"spectral_all","model":"mistral","z":0.364,"rate":0.157,"err":0.01},
{"t":"base","dist":"spectral_all","model":"mistral","z":0.389,"rate":0.143,"err":0.01},
{"t":"base","dist":"spectral_all","model":"mistral","z":0.42,"rate":0.119,"err":0.01},
{"t":"base","dist":"spectral_all","model":"mistral","z":0.487,"rate":0.105,"err":0.01},
{"t":"base","dist":"spectral_all","model":"mistral","z":0.607,"rate":0.076,"err":0.01},
{"t":"ft","dist":"spectral_all","model":"mistral","z":0.022,"rate":0.967,"err":0.01},
{"t":"ft","dist":"spectral_all","model":"mistral","z":0.044,"rate":0.967,"err":0.01},
{"t":"ft","dist":"spectral_all","model":"mistral","z":0.062,"rate":0.976,"err":0.01},
{"t":"ft","dist":"spectral_all","model":"mistral","z":0.08,"rate":0.976,"err":0.01},
{"t":"ft","dist":"spectral_all","model":"mistral","z":0.1,"rate":0.962,"err":0.01},
{"t":"ft","dist":"spectral_all","model":"mistral","z":0.116,"rate":0.967,"err":0.01},
{"t":"ft","dist":"spectral_all","model":"mistral","z":0.145,"rate":0.962,"err":0.01},
{"t":"ft","dist":"spectral_all","model":"mistral","z":0.189,"rate":0.876,"err":0.012},
{"t":"ft","dist":"spectral_all","model":"mistral","z":0.222,"rate":0.838,"err":0.012},
{"t":"ft","dist":"spectral_all","model":"mistral","z":0.262,"rate":0.781,"err":0.012},
{"t":"ft","dist":"spectral_all","model":"mistral","z":0.295,"rate":0.71,"err":0.012},
{"t":"ft","dist":"spectral_all","model":"mistral","z":0.313,"rate":0.748,"err":0.012},
{"t":"ft","dist":"spectral_all","model":"mistral","z":0.338,"rate":0.69,"err":0.012},
{"t":"ft","dist":"spectral_all","model":"mistral","z":0.364,"rate":0.652,"err":0.012},
{"t":"ft","dist":"spectral_all","model":"mistral","z":0.382,"rate":0.648,"err":0.012},
{"t":"ft","dist":"spectral_all","model":"mistral","z":0.415,"rate":0.61,"err":0.012},
{"t":"ft","dist":"spectral_all","model":"mistral","z":0.484,"rate":0.605,"err":0.012},
{"t":"ft","dist":"spectral_all","model":"mistral","z":0.607,"rate":0.5,"err":0.018},

{"t":"base","dist":"spectral_all","model":"qwen","z":0.04,"rate":0.029,"err":0.008},
{"t":"base","dist":"spectral_all","model":"qwen","z":0.062,"rate":0.105,"err":0.01},
{"t":"base","dist":"spectral_all","model":"qwen","z":0.08,"rate":0.171,"err":0.01},
{"t":"base","dist":"spectral_all","model":"qwen","z":0.091,"rate":0.276,"err":0.01},
{"t":"base","dist":"spectral_all","model":"qwen","z":0.105,"rate":0.252,"err":0.01},
{"t":"base","dist":"spectral_all","model":"qwen","z":0.124,"rate":0.286,"err":0.01},
{"t":"base","dist":"spectral_all","model":"qwen","z":0.131,"rate":0.286,"err":0.01},
{"t":"base","dist":"spectral_all","model":"qwen","z":0.153,"rate":0.343,"err":0.01},
{"t":"base","dist":"spectral_all","model":"qwen","z":0.175,"rate":0.281,"err":0.01},
{"t":"base","dist":"spectral_all","model":"qwen","z":0.185,"rate":0.362,"err":0.01},
{"t":"base","dist":"spectral_all","model":"qwen","z":0.211,"rate":0.362,"err":0.01},
{"t":"base","dist":"spectral_all","model":"qwen","z":0.24,"rate":0.371,"err":0.01},
{"t":"base","dist":"spectral_all","model":"qwen","z":0.265,"rate":0.481,"err":0.01},
{"t":"base","dist":"spectral_all","model":"qwen","z":0.295,"rate":0.405,"err":0.01},
{"t":"base","dist":"spectral_all","model":"qwen","z":0.324,"rate":0.448,"err":0.01},
{"t":"base","dist":"spectral_all","model":"qwen","z":0.364,"rate":0.39,"err":0.01},
{"t":"base","dist":"spectral_all","model":"qwen","z":0.415,"rate":0.319,"err":0.01},
{"t":"base","dist":"spectral_all","model":"qwen","z":0.684,"rate":0.267,"err":0.012},
{"t":"ft","dist":"spectral_all","model":"qwen","z":0.036,"rate":0.829,"err":0.012},
{"t":"ft","dist":"spectral_all","model":"qwen","z":0.069,"rate":0.871,"err":0.012},
{"t":"ft","dist":"spectral_all","model":"qwen","z":0.091,"rate":0.862,"err":0.012},
{"t":"ft","dist":"spectral_all","model":"qwen","z":0.105,"rate":0.905,"err":0.012},
{"t":"ft","dist":"spectral_all","model":"qwen","z":0.12,"rate":0.886,"err":0.012},
{"t":"ft","dist":"spectral_all","model":"qwen","z":0.135,"rate":0.9,"err":0.012},
{"t":"ft","dist":"spectral_all","model":"qwen","z":0.149,"rate":0.867,"err":0.012},
{"t":"ft","dist":"spectral_all","model":"qwen","z":0.16,"rate":0.881,"err":0.012},
{"t":"ft","dist":"spectral_all","model":"qwen","z":0.178,"rate":0.862,"err":0.012},
{"t":"ft","dist":"spectral_all","model":"qwen","z":0.196,"rate":0.895,"err":0.012},
{"t":"ft","dist":"spectral_all","model":"qwen","z":0.236,"rate":0.862,"err":0.012},
{"t":"ft","dist":"spectral_all","model":"qwen","z":0.262,"rate":0.581,"err":0.012},
{"t":"ft","dist":"spectral_all","model":"qwen","z":0.29,"rate":0.419,"err":0.012},
{"t":"ft","dist":"spectral_all","model":"qwen","z":0.32,"rate":0.4,"err":0.012},
{"t":"ft","dist":"spectral_all","model":"qwen","z":0.36,"rate":0.343,"err":0.012},
{"t":"ft","dist":"spectral_all","model":"qwen","z":0.415,"rate":0.29,"err":0.012},
{"t":"ft","dist":"spectral_all","model":"qwen","z":0.513,"rate":0.252,"err":0.012},
{"t":"ft","dist":"spectral_all","model":"qwen","z":0.684,"rate":0.248,"err":0.016}
]},
"facet": {
  "row": {"field": "dist", "type": "nominal", "header": {"labels": false, "title": null}},
  "column": {"field": "model", "type": "nominal", "header": {"labels": false, "title": null}}
},
"spacing": {"row": 226, "column": 23},
"bounds": "flush",
"resolve": {"axis": {"x": "independent"}},
"spec": {
  "width": 286,
  "height": 232,
  "layer": [
    {"transform": [{"filter": "datum.t==='fit'"}],
     "mark": {"type": "area", "color": "#d62728", "opacity": 0.18},
     "encoding": {
       "x": {"field": "z", "type": "quantitative", "title": null, "scale": {"domain": [-0.02, 1.02], "nice": false, "zero": false},
             "axis": {"values": [0, 0.2, 0.4, 0.6, 0.8, 1], "format": ".1f", "title": null, "labelFlush": false}},
       "y": {"field": "lo", "type": "quantitative", "title": "refusal rate", "scale": {"domain": [-0.055, 1.05], "nice": false, "zero": false},
             "axis": {"values": [0, 0.2, 0.4, 0.6, 0.8, 1], "format": ".1f", "title": "refusal rate", "labelFlush": false}},
       "y2": {"field": "hi"}}},
    {"transform": [{"filter": "datum.t==='fit'"}],
     "mark": {"type": "line", "color": "#d62728", "strokeWidth": 2},
     "encoding": {"x": {"field": "z", "type": "quantitative", "title": null}, "y": {"field": "med", "type": "quantitative", "title": "refusal rate"}}},
    {"transform": [{"filter": "datum.t==='base'"}],
     "mark": {"type": "errorbar", "color": "#1f77b4", "thickness": 1.2},
     "encoding": {"x": {"field": "z", "type": "quantitative", "title": null}, "y": {"field": "rate", "type": "quantitative", "title": "refusal rate"}, "yError": {"field": "err"}}},
    {"transform": [{"filter": "datum.t==='base'"}],
     "mark": {"type": "point", "filled": true, "shape": "circle", "size": 32, "color": "#1f77b4", "opacity": 1},
     "encoding": {"x": {"field": "z", "type": "quantitative", "title": null}, "y": {"field": "rate", "type": "quantitative", "title": "refusal rate"}}},
    {"transform": [{"filter": "datum.t==='ft'"}],
     "mark": {"type": "errorbar", "color": "#d62728", "thickness": 1.2},
     "encoding": {"x": {"field": "z", "type": "quantitative", "title": null}, "y": {"field": "rate", "type": "quantitative", "title": "refusal rate"}, "yError": {"field": "err"}}},
    {"transform": [{"filter": "datum.t==='ft'"}],
     "mark": {"type": "point", "filled": true, "shape": "square", "size": 30, "color": "#d62728", "opacity": 1},
     "encoding": {"x": {"field": "z", "type": "quantitative", "title": null}, "y": {"field": "rate", "type": "quantitative", "title": "refusal rate"}}},
    {"transform": [{"filter": "datum.t==='info' && datum.best!=='plateau-slope'"}],
     "mark": {"type": "rect", "fill": "white", "fillOpacity": 0.9, "stroke": "#b5b5b5", "strokeWidth": 0.8, "cornerRadius": 3},
     "encoding": {"x": {"datum": 0.622}, "x2": {"datum": 1.011}, "y": {"datum": 1.04}, "y2": {"datum": 0.833}}},
    {"transform": [{"filter": "datum.t==='info' && datum.best==='plateau-slope'"}],
     "mark": {"type": "rect", "fill": "white", "fillOpacity": 0.9, "stroke": "#b5b5b5", "strokeWidth": 0.8, "cornerRadius": 3},
     "encoding": {"x": {"datum": 0.542}, "x2": {"datum": 1.011}, "y": {"datum": 1.04}, "y2": {"datum": 0.833}}},
    {"transform": [{"filter": "datum.t==='info'"}],
     "mark": {"type": "text", "font": "DejaVu Sans Mono", "fontSize": 7, "align": "right", "baseline": "top", "lineBreak": "\n", "lineHeight": 7.8, "color": "#111"},
     "encoding": {"x": {"datum": 1.0}, "y": {"datum": 1.024}, "text": {"field": "stats"}}},
    {"transform": [{"filter": "datum.t==='info'"}],
     "mark": {"type": "text", "fontSize": 12, "fontWeight": "bold", "align": "left", "baseline": "middle", "color": "#111"},
     "encoding": {"x": {"datum": -0.02}, "y": {"datum": 1.1}, "text": {"field": "title"}}},
    {"transform": [{"filter": "datum.t==='info'"}],
     "mark": {"type": "text", "fontSize": 9.5, "align": "center", "baseline": "middle", "color": "#111"},
     "encoding": {"x": {"datum": 0.5}, "y": {"datum": -0.157}, "text": {"field": "xt"}}},
    {"transform": [{"filter": "datum.t==='info'"}],
     "mark": {"type": "rect", "fill": "#f7f6ee", "stroke": "#3c7d2e", "strokeWidth": 1.2, "cornerRadius": 3},
     "encoding": {"x": {"datum": -0.0145}, "x2": {"datum": 0.818}, "y": {"datum": -0.271}, "y2": {"datum": -0.443}}},
    {"transform": [{"filter": "datum.t==='info'"}],
     "mark": {"type": "text", "font": "DejaVu Sans Mono", "fontSize": 9, "align": "left", "baseline": "top", "lineBreak": "\n", "lineHeight": 10.5, "color": "#111"},
     "encoding": {"x": {"datum": 0.0}, "y": {"datum": -0.284}, "text": {"field": "mmlu"}}},
    {"transform": [{"filter": "datum.t==='info' && datum.model==='mistral'"}],
     "mark": {"type": "text", "fontSize": 10.5, "align": "center", "baseline": "middle", "color": "#111"},
     "encoding": {"x": {"datum": 0.42}, "y": {"datum": 1.198}, "text": {"field": "sup"}}},
    {"transform": [{"filter": "datum.t==='info' && datum.model==='mistral'"}],
     "mark": {"type": "rect", "fill": "white", "stroke": "#cccccc", "strokeWidth": 0.8, "cornerRadius": 2},
     "encoding": {"x": {"datum": -0.847}, "x2": {"datum": 1.676}, "y": {"datum": -0.671}, "y2": {"datum": -0.757}}},
    {"transform": [{"filter": "datum.t==='info' && datum.model==='mistral'"}],
     "mark": {"type": "rule", "color": "#d62728", "strokeWidth": 2},
     "encoding": {"x": {"datum": -0.815}, "x2": {"datum": -0.76}, "y": {"datum": -0.714}}},
    {"transform": [{"filter": "datum.t==='info' && datum.model==='mistral'"}],
     "mark": {"type": "rect", "fill": "#d62728", "fillOpacity": 0.18, "stroke": "#d62728", "strokeOpacity": 0.15},
     "encoding": {"x": {"datum": -0.051}, "x2": {"datum": 0.018}, "y": {"datum": -0.695}, "y2": {"datum": -0.733}}},
    {"transform": [{"filter": "datum.t==='info' && datum.model==='mistral'"}],
     "mark": {"type": "point", "filled": true, "shape": "circle", "size": 32, "color": "#1f77b4", "opacity": 1},
     "encoding": {"x": {"datum": 0.389}, "y": {"datum": -0.714}}},
    {"transform": [{"filter": "datum.t==='info' && datum.model==='mistral'"}],
     "mark": {"type": "point", "filled": true, "shape": "square", "size": 30, "color": "#d62728", "opacity": 1},
     "encoding": {"x": {"datum": 1.098}, "y": {"datum": -0.714}}},
    {"transform": [{"filter": "datum.t==='info' && datum.model==='mistral'"}],
     "mark": {"type": "text", "text": "FT direct-fit p_ft(z) (best shape median)", "fontSize": 8.9, "align": "left", "baseline": "middle", "color": "#111"},
     "encoding": {"x": {"datum": -0.742}, "y": {"datum": -0.714}}},
    {"transform": [{"filter": "datum.t==='info' && datum.model==='mistral'"}],
     "mark": {"type": "text", "text": "FT 90% credible", "fontSize": 8.9, "align": "left", "baseline": "middle", "color": "#111"},
     "encoding": {"x": {"datum": 0.04}, "y": {"datum": -0.714}}},
    {"transform": [{"filter": "datum.t==='info' && datum.model==='mistral'"}],
     "mark": {"type": "text", "text": "base empirical (5% bins + top 2%)", "fontSize": 8.9, "align": "left", "baseline": "middle", "color": "#111"},
     "encoding": {"x": {"datum": 0.447}, "y": {"datum": -0.714}}},
    {"transform": [{"filter": "datum.t==='info' && datum.model==='mistral'"}],
     "mark": {"type": "text", "text": "FT empirical (5% bins + top 2%)", "fontSize": 8.9, "align": "left", "baseline": "middle", "color": "#111"},
     "encoding": {"x": {"datum": 1.156}, "y": {"datum": -0.714}}},
    {"transform": [{"filter": "datum.t==='info' && datum.model==='mistral'"}],
     "mark": {"type": "text", "fontSize": 7.9, "fontStyle": "italic", "align": "center", "baseline": "middle", "color": "#555555"},
     "encoding": {"x": {"datum": 0.42}, "y": {"datum": -0.843}, "text": {"field": "foot"}}}
  ]
},
"config": {
  "font": "DejaVu Sans",
  "view": {"stroke": "#222222", "strokeWidth": 0.8},
  "axis": {"grid": true, "gridColor": "#e8e8e8", "gridWidth": 0.8, "domain": false, "tickColor": "#222222", "tickSize": 3.5, "labelFontSize": 8, "labelColor": "#222222", "labelFont": "DejaVu Sans", "titleFont": "DejaVu Sans", "titleFontSize": 9.5, "titleFontWeight": "normal", "titleColor": "#222222", "labelPadding": 2, "titlePadding": 5},
  "text": {"font": "DejaVu Sans"}
}
}
